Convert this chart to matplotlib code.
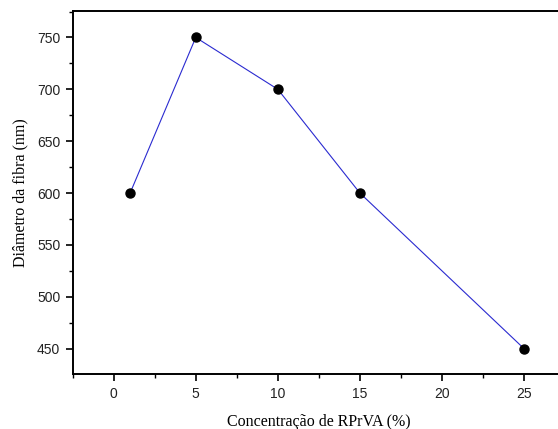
import matplotlib
matplotlib.use("Agg")
import matplotlib.pyplot as plt
from matplotlib.ticker import MultipleLocator

conc = [1, 5, 10, 15, 25]
diam = [600, 750, 700, 600, 450]
xticks = [0, 5, 10, 15, 20, 25]
yticks = [450, 500, 550, 600, 650, 700, 750]

fig = plt.figure(figsize=(5.58, 4.29), dpi=100)
ax = fig.add_axes([72.7/558, 1-374/429, (565-72.7)/558, (374-11)/429])

ax.plot(conc, diam, color="#2a2ad0", lw=0.8, marker="o", markersize=6.5,
        markerfacecolor="black", markeredgecolor="black", zorder=3)

ax.set_xlim(-2.5, 27.5)
ax.set_ylim(425.5, 775.5)
ax.set_xticks(xticks)
ax.set_yticks(yticks)
ax.xaxis.set_minor_locator(MultipleLocator(2.5))
ax.yaxis.set_minor_locator(MultipleLocator(25))
ax.tick_params(which="major", direction="out", length=5, width=1.2, labelsize=10, pad=4)
ax.tick_params(which="minor", direction="out", length=3, width=1.0)
for lab in ax.get_xticklabels() + ax.get_yticklabels():
    lab.set_family("Liberation Sans")
    lab.set_color("#222222")
for s in ax.spines.values():
    s.set_linewidth(1.4)

ax.set_xlabel("Concentração de RPrVA (%)", family="Liberation Serif", fontsize=11.5, labelpad=10)
ax.set_ylabel("Diâmetro da fibra (nm)", family="Liberation Serif", fontsize=11.5, labelpad=6)

fig.savefig("out.png", dpi=100)
